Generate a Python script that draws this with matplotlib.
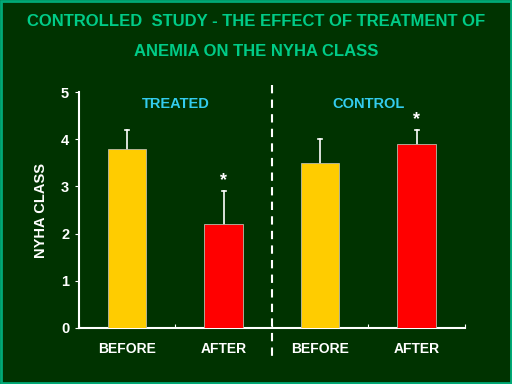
import matplotlib
matplotlib.use("Agg")
import matplotlib.pyplot as plt
from matplotlib.patches import Rectangle

categories = ["BEFORE", "AFTER", "BEFORE", "AFTER"]
values = [3.8, 2.2, 3.5, 3.9]
errors = [0.4, 0.7, 0.5, 0.3]
significant = [False, True, False, True]
groups = ["TREATED", "CONTROL"]
yticks = [0, 1, 2, 3, 4, 5]

BG = "#003300"
bar_colors = ["#ffcc00", "#ff0000", "#ffcc00", "#ff0000"]
font = ["Liberation Sans Narrow", "Liberation Sans", "DejaVu Sans"]
plt.rcParams["font.family"] = font

fig = plt.figure(figsize=(5.12, 3.84), dpi=100, facecolor=BG)
fig.patches.append(Rectangle((0.002, 0.003), 0.996, 0.994, transform=fig.transFigure,
                             fill=False, edgecolor="#00aa77", linewidth=2))
ax = fig.add_axes([0.154, 0.146, 0.754, 0.614])
ax.set_facecolor(BG)

x = [i + 0.5 for i in range(len(values))]
ax.bar(x, values, width=0.4, color=bar_colors, edgecolor="#bbbbaa", linewidth=0.6, zorder=3)
for xi, v, e in zip(x, values, errors):
    ax.plot([xi, xi], [v, v + e], color="white", lw=1.2, zorder=2)
    ax.plot([xi - 0.02, xi + 0.02], [v + e, v + e], color="white", lw=1.2, zorder=2)
for xi, v, e, s in zip(x, values, errors, significant):
    if s:
        ax.text(xi, v + e + 0.22, "*", color="white", ha="center", va="center",
                fontsize=13, fontweight="bold", family=font)

ax.set_xlim(0, 4)
ax.set_ylim(0, 5)
ax.set_yticks(yticks)
ax.set_yticklabels([str(t) for t in yticks], color="white", fontsize=10.5, fontweight="bold")
ax.set_xticks([0, 1, 2, 3, 4])
ax.set_xticklabels([])
ax.set_xticks(x, minor=True)
ax.set_xticklabels(categories, minor=True, color="white", fontsize=10, fontweight="bold")
ax.tick_params(axis="x", which="minor", length=0, pad=10)
ax.tick_params(axis="x", which="major", length=3, color="white", direction="in")
ax.tick_params(axis="y", length=3, color="white", direction="out", pad=4)
for sp in ["top", "right"]:
    ax.spines[sp].set_visible(False)
for sp in ["left", "bottom"]:
    ax.spines[sp].set_color("white")
    ax.spines[sp].set_linewidth(1.5)
ax.set_ylabel("NYHA CLASS", color="white", fontsize=10.5, fontweight="bold", labelpad=9)

ax.plot([2, 2], [5.15, -0.7], color="white", lw=1.5, ls=(0, (4, 3)), clip_on=False, zorder=4)
ax.text(1.0, 4.75, groups[0], color="#33ccee", ha="center", va="center", fontsize=10.5, fontweight="bold")
ax.text(3.0, 4.75, groups[1], color="#33ccee", ha="center", va="center", fontsize=10.5, fontweight="bold")

fig.text(0.5, 0.943, "CONTROLLED  STUDY - THE EFFECT OF TREATMENT OF", color="#00cc88",
         ha="center", va="center", fontsize=12, fontweight="bold")
fig.text(0.5, 0.867, "ANEMIA ON THE NYHA CLASS", color="#00cc88",
         ha="center", va="center", fontsize=12, fontweight="bold")

fig.savefig("out.png", dpi=100, facecolor=BG)
